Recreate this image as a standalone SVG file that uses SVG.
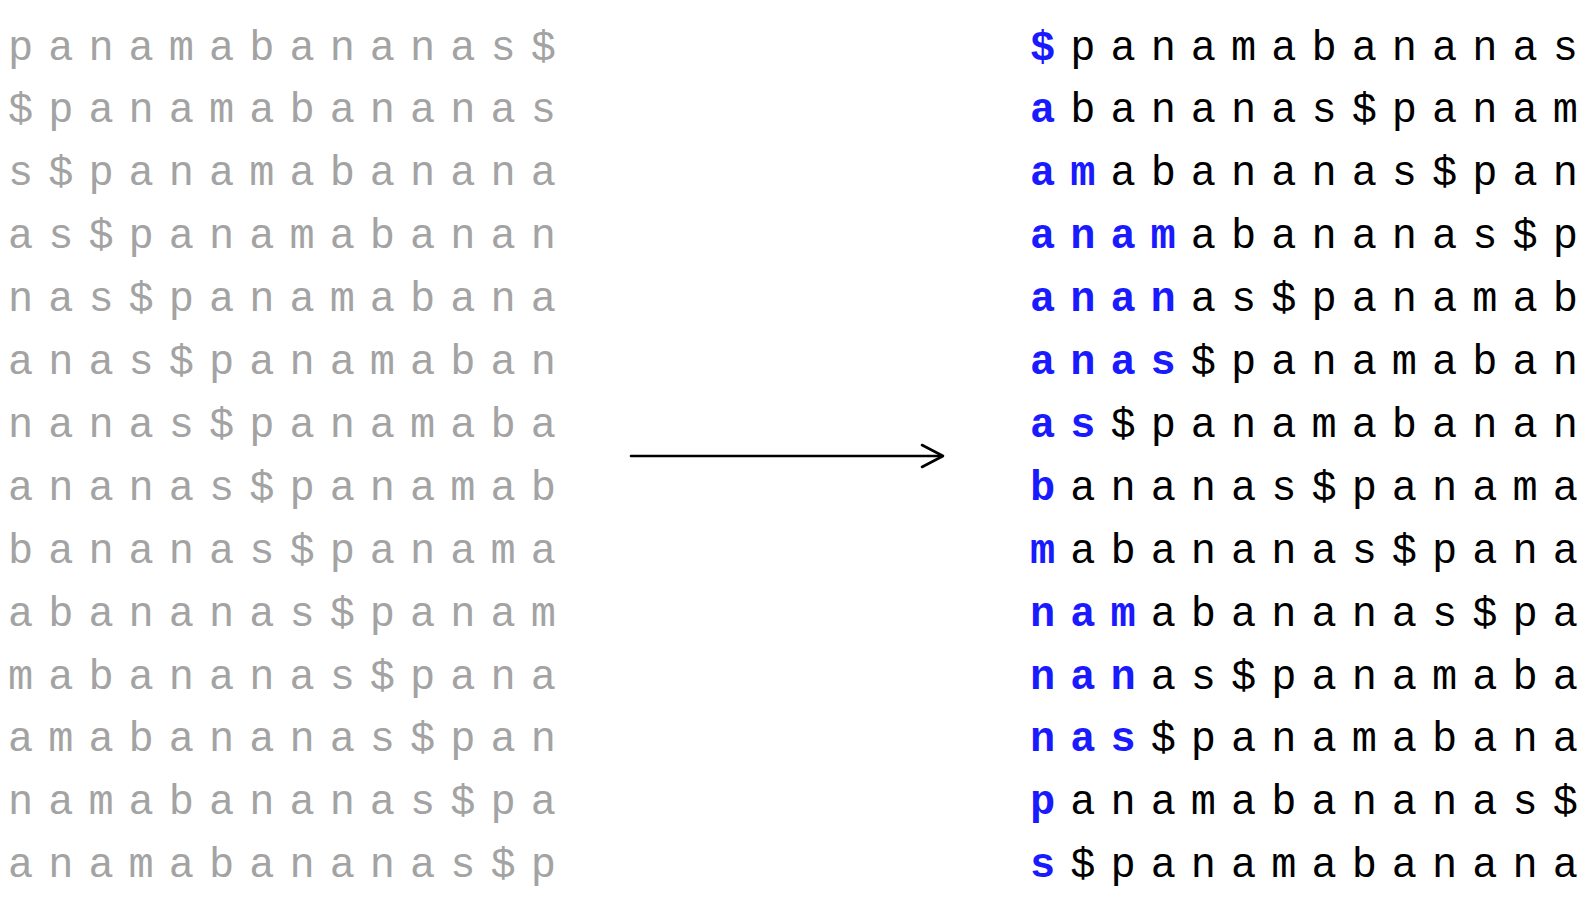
<svg xmlns="http://www.w3.org/2000/svg" width="1590" height="902" viewBox="0 0 1590 902">
<style>
text{font-family:"Courier New","Liberation Mono",monospace;font-size:42px;letter-spacing:15px}
.l{fill:#a3a3a3}
.r{fill:#000}
.b{fill:#1a1aff;font-weight:bold}
.e{letter-spacing:0}
</style>
<rect width="1590" height="902" fill="#fff"/>
<g id="left">
<text class="l" x="8" y="59.5">panamabananas<tspan class="e">$</tspan></text>
<text class="l" x="8" y="122.4">$panamabanana<tspan class="e">s</tspan></text>
<text class="l" x="8" y="185.3">s$panamabanan<tspan class="e">a</tspan></text>
<text class="l" x="8" y="248.2">as$panamabana<tspan class="e">n</tspan></text>
<text class="l" x="8" y="311.1">nas$panamaban<tspan class="e">a</tspan></text>
<text class="l" x="8" y="374">anas$panamaba<tspan class="e">n</tspan></text>
<text class="l" x="8" y="436.9">nanas$panamab<tspan class="e">a</tspan></text>
<text class="l" x="8" y="499.8">ananas$panama<tspan class="e">b</tspan></text>
<text class="l" x="8" y="562.7">bananas$panam<tspan class="e">a</tspan></text>
<text class="l" x="8" y="625.6">abananas$pana<tspan class="e">m</tspan></text>
<text class="l" x="8" y="688.5">mabananas$pan<tspan class="e">a</tspan></text>
<text class="l" x="8" y="751.4">amabananas$pa<tspan class="e">n</tspan></text>
<text class="l" x="8" y="814.3">namabananas$p<tspan class="e">a</tspan></text>
<text class="l" x="8" y="877.2">anamabananas$<tspan class="e">p</tspan></text>
</g>
<g id="right">
<text class="r" x="1030" y="59.5"><tspan class="b">$</tspan>panamabanana<tspan class="e">s</tspan></text>
<text class="r" x="1030" y="122.4"><tspan class="b">a</tspan>bananas$pana<tspan class="e">m</tspan></text>
<text class="r" x="1030" y="185.3"><tspan class="b">am</tspan>abananas$pa<tspan class="e">n</tspan></text>
<text class="r" x="1030" y="248.2"><tspan class="b">anam</tspan>abananas$<tspan class="e">p</tspan></text>
<text class="r" x="1030" y="311.1"><tspan class="b">anan</tspan>as$panama<tspan class="e">b</tspan></text>
<text class="r" x="1030" y="374"><tspan class="b">anas</tspan>$panamaba<tspan class="e">n</tspan></text>
<text class="r" x="1030" y="436.9"><tspan class="b">as</tspan>$panamabana<tspan class="e">n</tspan></text>
<text class="r" x="1030" y="499.8"><tspan class="b">b</tspan>ananas$panam<tspan class="e">a</tspan></text>
<text class="r" x="1030" y="562.7"><tspan class="b">m</tspan>abananas$pan<tspan class="e">a</tspan></text>
<text class="r" x="1030" y="625.6"><tspan class="b">nam</tspan>abananas$p<tspan class="e">a</tspan></text>
<text class="r" x="1030" y="688.5"><tspan class="b">nan</tspan>as$panamab<tspan class="e">a</tspan></text>
<text class="r" x="1030" y="751.4"><tspan class="b">nas</tspan>$panamaban<tspan class="e">a</tspan></text>
<text class="r" x="1030" y="814.3"><tspan class="b">p</tspan>anamabananas<tspan class="e">$</tspan></text>
<text class="r" x="1030" y="877.2"><tspan class="b">s</tspan>$panamabanan<tspan class="e">a</tspan></text>
</g>
<g id="connectors" fill="none" stroke="#000" stroke-width="2.6" stroke-linecap="round" stroke-linejoin="round">
<line x1="631" y1="456" x2="942" y2="456"/>
<polyline points="922,445 943,456 922,467"/>
</g>
</svg>
